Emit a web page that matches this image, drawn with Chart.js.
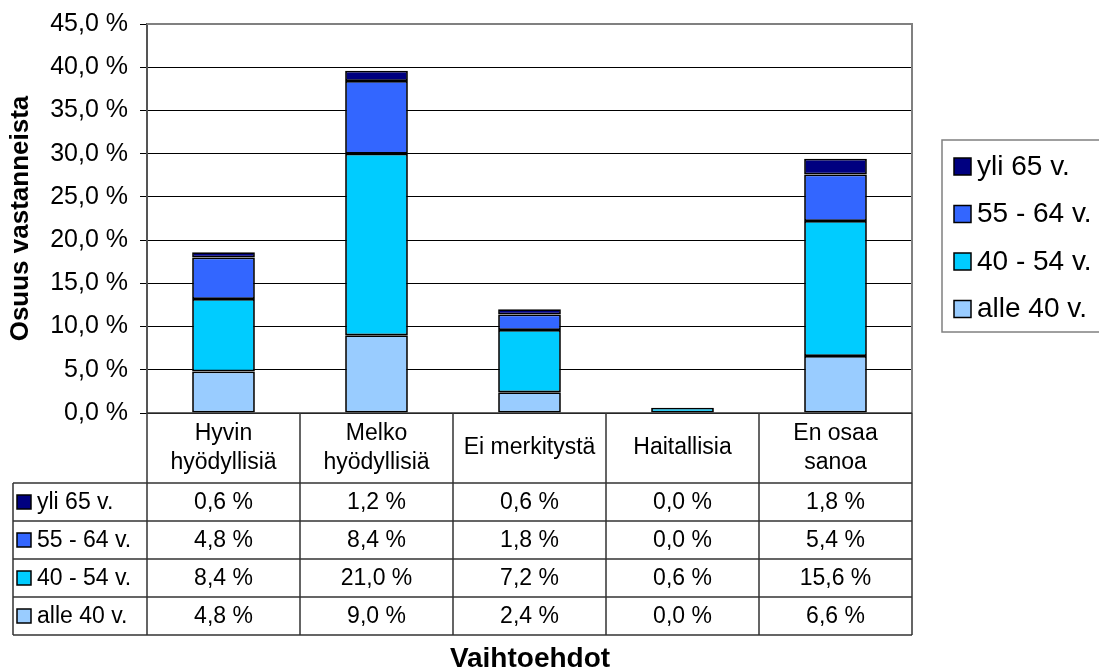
<!DOCTYPE html>
<html>
<head>
<meta charset="utf-8">
<script src="https://cdn.jsdelivr.net/npm/chart.js@4.4.1/dist/chart.umd.min.js"></script>
<style>
  body { margin: 0; background: #fff; }
  #wrap { width: 1099px; height: 671px; }
</style>
</head>
<body>
<div id="wrap"><canvas id="kaavio" width="1099" height="671"></canvas></div>
<script>
const vaihtoehdot = [['Hyvin', 'hyödyllisiä'], ['Melko', 'hyödyllisiä'], ['Ei merkitystä'], ['Haitallisia'], ['En osaa', 'sanoa']];
const yli65 = [0.6, 1.2, 0.6, 0.0, 1.8];
const ika55_64 = [4.8, 8.4, 1.8, 0.0, 5.4];
const ika40_54 = [8.4, 21.0, 7.2, 0.6, 15.6];
const alle40 = [4.8, 9.0, 2.4, 0.0, 6.6];

const FONTTI = 'Liberation Sans, Arial, sans-serif';
const muoto = v => v.toFixed(1).replace('.', ',') + ' %';

// pinoamisjärjestys alhaalta ylös
const sarjat = [
  { label: 'alle 40 v.', data: alle40, backgroundColor: '#99CCFF' },
  { label: '40 - 54 v.', data: ika40_54, backgroundColor: '#00CCFF' },
  { label: '55 - 64 v.', data: ika55_64, backgroundColor: '#3366FF' },
  { label: 'yli 65 v.', data: yli65, backgroundColor: '#000080' }
];

const taulukko = {
  id: 'taulukko',
  afterDraw(chart) {
    const ctx = chart.ctx;
    const ca = chart.chartArea;
    const xs = chart.scales.x;
    const lev = (ca.right - ca.left) / vaihtoehdot.length;
    const otsikkoAla = 483, rivi = 38, vasen = 13;
    const rivit = sarjat.slice().reverse();
    const ala = otsikkoAla + rivi * rivit.length;

    ctx.save();
    // kuvaalueen reunat
    ctx.strokeStyle = '#808080';
    ctx.lineWidth = 2;
    ctx.beginPath();
    ctx.moveTo(ca.left, ca.top); ctx.lineTo(ca.right, ca.top); ctx.lineTo(ca.right, ca.bottom);
    ctx.stroke();

    // taulukon viivat
    ctx.strokeStyle = '#333';
    ctx.lineWidth = 1.5;
    ctx.beginPath();
    for (let i = 0; i <= vaihtoehdot.length; i++) {
      const x = ca.left + i * lev;
      ctx.moveTo(x, ca.bottom); ctx.lineTo(x, ala);
    }
    ctx.moveTo(vasen, otsikkoAla); ctx.lineTo(vasen, ala);
    for (let r = 0; r <= rivit.length; r++) {
      const y = otsikkoAla + r * rivi;
      ctx.moveTo(vasen, y); ctx.lineTo(ca.right, y);
    }
    ctx.moveTo(ca.left, ca.bottom); ctx.lineTo(ca.right, ca.bottom);
    ctx.stroke();

    ctx.fillStyle = '#000';
    ctx.font = '23px ' + FONTTI;
    ctx.textAlign = 'center';
    ctx.textBaseline = 'middle';
    vaihtoehdot.forEach((lab, i) => {
      const x = xs.getPixelForValue(i);
      const keski = 448;
      lab.forEach((t, k) => {
        ctx.fillText(t, x, keski + (k - (lab.length - 1) / 2) * 29);
      });
    });

    rivit.forEach((s, r) => {
      const y = otsikkoAla + r * rivi + rivi / 2;
      ctx.fillStyle = s.backgroundColor;
      ctx.fillRect(17, y - 7, 14, 14);
      ctx.strokeStyle = '#000';
      ctx.lineWidth = 1.5;
      ctx.strokeRect(17, y - 7, 14, 14);
      ctx.fillStyle = '#000';
      ctx.textAlign = 'left';
      ctx.fillText(s.label, 37, y + 1);
      ctx.textAlign = 'center';
      s.data.forEach((v, i) => ctx.fillText(muoto(v), xs.getPixelForValue(i), y + 1));
    });

    // selite
    ctx.strokeStyle = '#808080';
    ctx.lineWidth = 1.5;
    ctx.strokeRect(942, 140, 180, 192);
    ctx.font = '28px ' + FONTTI;
    rivit.forEach((s, r) => {
      const y = 166 + r * 47.5;
      ctx.fillStyle = s.backgroundColor;
      ctx.fillRect(954, y - 8, 17, 17);
      ctx.strokeStyle = '#000';
      ctx.strokeRect(954, y - 8, 17, 17);
      ctx.fillStyle = '#000';
      ctx.textAlign = 'left';
      ctx.fillText(s.label, 977, y + 1);
    });

    // x-akselin otsikko
    ctx.font = 'bold 28px ' + FONTTI;
    ctx.textAlign = 'center';
    ctx.fillText('Vaihtoehdot', 530, 659);
    ctx.restore();
  }
};

new Chart(document.getElementById('kaavio'), {
  type: 'bar',
  data: {
    labels: vaihtoehdot,
    datasets: sarjat.map(s => ({
      label: s.label,
      data: s.data,
      backgroundColor: s.backgroundColor,
      borderColor: '#000',
      borderWidth: 1.75,
      borderSkipped: false,
      inflateAmount: 0,
      categoryPercentage: 1,
      barPercentage: 0.41
    }))
  },
  options: {
    responsive: false,
    animation: false,
    layout: { padding: { top: 24, right: 187, left: 0, bottom: 0 } },
    plugins: { legend: { display: false }, tooltip: { enabled: false } },
    scales: {
      x: {
        stacked: true,
        grid: { display: false },
        border: { display: false },
        ticks: { display: false },
        afterFit: s => { s.height = 258; }
      },
      y: {
        stacked: true,
        min: 0,
        max: 45,
        ticks: {
          stepSize: 5,
          color: '#000',
          padding: 12,
          font: { family: FONTTI, size: 25 },
          callback: v => muoto(v)
        },
        grid: { color: '#000', lineWidth: 1, tickLength: 7 },
        border: { color: '#555', width: 2 },
        title: {
          display: true,
          text: 'Osuus vastanneista',
          color: '#000',
          font: { family: FONTTI, size: 26, weight: 'bold' },
          padding: { top: 5, bottom: 0 }
        },
        afterFit: s => { s.width = 147; s.paddingTop = 0; s.paddingBottom = 0; }
      }
    }
  },
  plugins: [taulukko]
});
</script>
</body>
</html>
